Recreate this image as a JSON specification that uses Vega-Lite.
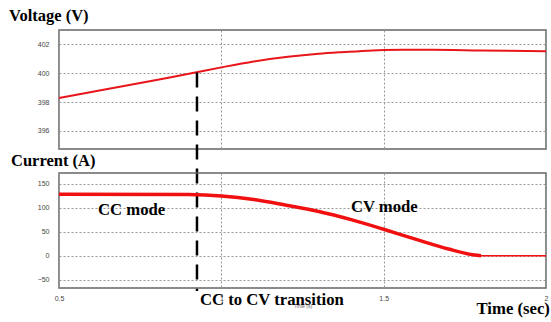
{
  "$schema": "https://vega.github.io/schema/vega-lite/v6.json",
  "background": "white",
  "padding": {"left": 8, "top": 6, "right": 2, "bottom": 2},
  "spacing": 24,
  "bounds": "flush",
  "config": {
    "view": {"stroke": "#666666", "strokeWidth": 1.5},
    "axis": {
      "grid": true, "gridColor": "#999999", "gridDash": [2, 2], "gridWidth": 1,
      "domain": false, "ticks": false, "labelOverlap": false, "tickCount": 20,
      "labelFont": "Liberation Sans", "labelFontSize": 7, "labelColor": "#444444"
    },
    "title": {"font": "Liberation Serif", "fontWeight": "bold", "fontSize": 16.5, "color": "black", "anchor": "start"},
    "text": {"font": "Liberation Serif", "fontWeight": "bold", "fontSize": 16.7}
  },
  "datasets": {
    "voltage": [
      {"t": 0.5, "v": 398.28}, {"t": 0.6, "v": 398.7}, {"t": 0.7, "v": 399.12}, {"t": 0.8, "v": 399.54},
      {"t": 0.9, "v": 399.96}, {"t": 1.0, "v": 400.41}, {"t": 1.1, "v": 400.82}, {"t": 1.205, "v": 401.14},
      {"t": 1.3, "v": 401.35}, {"t": 1.369, "v": 401.46}, {"t": 1.45, "v": 401.57}, {"t": 1.5, "v": 401.62},
      {"t": 1.646, "v": 401.63}, {"t": 1.8, "v": 401.58}, {"t": 2.0, "v": 401.52}
    ],
    "current": [
      {"t": 0.5, "i": 127.8, "seg": "charge"}, {"t": 0.9, "i": 127.5, "seg": "charge"}, {"t": 0.95, "i": 126.5, "seg": "charge"},
      {"t": 1.0, "i": 124.4, "seg": "charge"}, {"t": 1.1, "i": 117, "seg": "charge"}, {"t": 1.2, "i": 105, "seg": "charge"},
      {"t": 1.3, "i": 92, "seg": "charge"}, {"t": 1.4, "i": 75, "seg": "charge"}, {"t": 1.5, "i": 55, "seg": "charge"},
      {"t": 1.6, "i": 34, "seg": "charge"}, {"t": 1.7, "i": 14, "seg": "charge"}, {"t": 1.78, "i": 1.5, "seg": "charge"},
      {"t": 1.8, "i": 0, "seg": "charge"},
      {"t": 1.8, "i": 0, "seg": "rest"}, {"t": 2.0, "i": 0, "seg": "rest"}
    ],
    "marker": [{"t": 0.925, "top": 400.05, "bottom": 384.9}],
    "notes": [
      {"t": 0.62, "i": 96, "label": "CC mode"},
      {"t": 1.399, "i": 102, "label": "CV mode"},
      {"t": 0.934, "i": -92, "label": "CC to CV transition"}
    ],
    "notes2": [
      {"t": 2.012, "i": -111, "label": "Time (sec)"}
    ]
  },
  "vconcat": [
    {
      "width": 487,
      "height": 119,
      "title": {"text": "Voltage (V)", "frame": "group", "dx": -50, "offset": 6},
      "layer": [
        {
          "data": {"name": "voltage"},
          "mark": {"type": "line", "color": "#e8161b", "strokeWidth": 2, "interpolate": "monotone"},
          "encoding": {
            "x": {"field": "t", "type": "quantitative", "scale": {"domain": [0.5, 2], "nice": false},
                  "axis": {"values": [0.5, 1, 1.5, 2], "labels": false, "title": null, "orient": "bottom", "tickCount": 20}},
            "y": {"field": "v", "type": "quantitative", "scale": {"domain": [394.75, 403], "nice": false, "zero": false},
                  "axis": {"values": [396, 398, 400, 402], "format": "d", "title": null, "labelPadding": 10, "tickCount": 20}}
          }
        },
        {
          "data": {"name": "marker"},
          "mark": {"type": "rule", "color": "black", "strokeWidth": 2.5, "strokeDash": [15, 9]},
          "encoding": {
            "x": {"field": "t", "type": "quantitative"},
            "y": {"field": "top", "type": "quantitative"},
            "y2": {"field": "bottom"}
          }
        }
      ]
    },
    {
      "width": 487,
      "height": 115,
      "title": {"text": "Current (A)", "frame": "group", "dx": -48, "offset": 4},
      "layer": [
        {
          "data": {"name": "current"},
          "mark": {"type": "line", "color": "#f01010", "interpolate": "monotone"},
          "encoding": {
            "x": {"field": "t", "type": "quantitative", "scale": {"domain": [0.5, 2], "nice": false},
                  "axis": {"values": [0.5, 1, 1.5, 2], "format": "~g", "tickCount": 20, "title": "Time (s)", "titleFontSize": 5, "titleFont": "Liberation Sans",
                           "titleFontWeight": "normal", "titleColor": "#666666", "titlePadding": 2, "labelPadding": 6, "labelFlush": false}},
            "y": {"field": "i", "type": "quantitative", "scale": {"domain": [-67, 172], "nice": false, "zero": false},
                  "axis": {"values": [-50, 0, 50, 100, 150], "format": "d", "title": null, "labelPadding": 10, "tickCount": 20}},
            "detail": {"field": "seg", "type": "nominal"},
            "strokeWidth": {"field": "seg", "type": "nominal", "scale": {"domain": ["charge", "rest"], "range": [3.5, 1.5]}, "legend": null}
          }
        },
        {
          "data": {"name": "notes"},
          "mark": {"type": "text", "align": "left", "baseline": "middle"},
          "encoding": {
            "x": {"field": "t", "type": "quantitative"},
            "y": {"field": "i", "type": "quantitative"},
            "text": {"field": "label"}
          }
        },
        {
          "data": {"name": "notes2"},
          "mark": {"type": "text", "align": "right", "baseline": "middle"},
          "encoding": {
            "x": {"field": "t", "type": "quantitative"},
            "y": {"field": "i", "type": "quantitative"},
            "text": {"field": "label"}
          }
        }
      ]
    }
  ]
}
